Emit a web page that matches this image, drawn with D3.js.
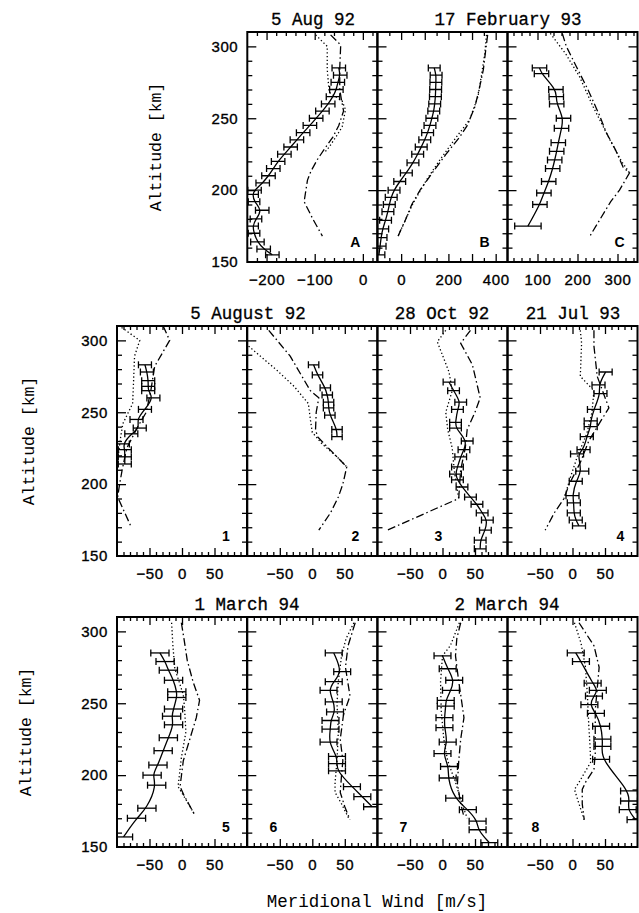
<!DOCTYPE html>
<html>
<head>
<meta charset="utf-8">
<script src="https://cdn.jsdelivr.net/npm/d3@7"></script>
<style>
body { margin: 0; background: #fff; }
</style>
</head>
<body>
<div id="chart"></div>
<script>

// ---- data: [altitude km, meridional wind m/s, error] ----
var ptsA = [[285,-50,14],[280,-47,14],[275,-52,14],[270,-55,14],[265,-62,14],[260,-72,14],[255,-84,14],[250,-97,14],[245,-110,14],[240,-124,14],[235,-137,14],[230,-150,14],[225,-163,14],[220,-176,14],[215,-186,14],[210,-196,14],[205,-208,14],[200,-225,14],[197,-229,12],[192,-226,12],[186,-209,14],[180,-222,12],[175,-229,12],[170,-226,12],[164,-219,14],[159,-206,14],[155,-188,14]]
var dotA = [[308,-98],[300,-74],[284,-74],[268,-70],[262,-43],[256,-36],[244,-43],[237,-56],[230,-70],[226,-80]]
var dashA = [[308,-67],[301,-46],[285,-48],[270,-48],[262,-44],[255,-40],[245,-50],[237,-62],[228,-81],[221,-95],[213,-108],[207,-115],[192,-122],[180,-104],[168,-84]]

var ptsB = [[285,140,25],[280,148,25],[275,147,25],[270,146,25],[265,145,25],[260,142,25],[255,138,25],[250,130,25],[245,122,25],[240,112,25],[235,100,25],[230,85,25],[225,70,25],[219,50,25],[212,22,25],[206,-6,25],[200,-30,25],[195,-42,25],[190,-50,25],[185,-56,25],[179,-66,25],[173,-78,25],[167,-85,25],[161,-89,25],[155,-94,25]]
var dotB = [[308,361],[295,354],[280,340],[265,325],[249,290],[237,234],[221,164],[207,107],[191,51],[180,20],[168,-13]]
var dashB = [[308,366],[295,356],[284,348],[270,330],[258,312],[245,280],[237,248],[225,190],[215,145],[200,80],[190,45],[178,15],[168,-13]]

var ptsC = [[285,105,18],[281,110,18],[270,146,18],[265,147,18],[260,148,18],[250,165,18],[243,160,18],[233,152,18],[227,148,18],[221,143,18],[215,138,18],[206,128,18],[198,116,18],[190,106,18],[175,76,33]]
var dotC = [[309,132],[295,170],[279,205],[258,239],[235,281],[220,310],[212,330]]
var dashC = [[309,162],[300,172],[286,197],[270,226],[252,255],[240,272],[228,295],[216,314],[212,330],[200,305],[192,283],[180,257],[168,231]]

var pts1 = [[283,-57,10],[278,-54,10],[272,-52,10],[268,-52,10],[265,-52,10],[260,-44,10],[252,-57,10],[245,-70,10],[239,-65,10],[235,-78,10],[228,-91,10],[224,-88,10],[219,-88,10],[214,-88,10]]
var dot1 = [[309,-93],[300,-65],[289,-73],[266,-75],[256,-76],[242,-91],[231,-95],[220,-98]]
var dash1 = [[310,-29],[300,-19],[282,-42],[265,-48],[250,-55],[240,-68],[225,-85],[210,-92],[200,-96],[191,-99],[180,-88],[170,-78]]

var pts2 = [[283,2,8],[276,8,8],[267,20,8],[262,23,8],[257,25,8],[253,25,8],[248,27,8],[238,38,8],[233,38,8]]
var dot2 = [[296,-98],[279,-54],[268,-28],[256,-6],[245,-3],[236,0],[228,15],[219,38],[212,53]]
var dash2 = [[307,-67],[289,-34],[265,-3],[260,10],[250,6],[238,5],[233,8],[225,25],[212,53],[200,47],[191,40],[180,28],[168,10]]

var pts3 = [[271,10,9],[265,17,9],[257,28,9],[252,23,9],[243,20,9],[239,20,9],[230,38,9],[224,33,9],[219,28,9],[212,23,9],[207,20,9],[203,23,9],[198,30,9],[191,43,9],[186,53,9],[180,61,9],[175,69,9],[168,66,9],[161,58,9],[155,58,9]]
var dot3 = [[307,5],[299,-8],[278,10],[265,15],[250,5],[238,8],[225,15],[210,18],[198,22],[190,25]]
var dash3 = [[307,43],[298,28],[283,46],[260,58],[250,50],[238,38],[225,35],[210,28],[198,26],[190,25],[168,-85]]

var pts4 = [[278,51,10],[269,40,10],[263,43,10],[252,33,10],[244,28,10],[240,28,10],[233,22,10],[224,17,10],[221,7,10],[209,15,10],[202,5,10],[192,0,10],[187,2,10],[180,2,10],[175,5,10],[171,10,10]]
var dot4 = [[307,12],[298,14],[275,12],[265,33],[250,30],[235,22],[220,8],[205,-3],[190,-13]]
var dash4 = [[307,33],[296,33],[275,38],[253,56],[245,45],[230,25],[215,12],[200,-5],[190,-13],[180,-28],[168,-42]]

var pts5 = [[285,-34,14],[279,-26,14],[273,-21,14],[266,-13,14],[258,-8,14],[254,-8,14],[246,-13,14],[241,-16,14],[235,-13,14],[226,-21,14],[217,-29,14],[207,-37,14],[200,-46,14],[193,-39,14],[177,-54,14],[170,-70,14],[157,-90,14]]
var dot5 = [[306,-16],[290,-14],[274,-11],[256,2],[246,4],[230,6],[212,-1],[192,-6],[186,2],[180,10],[172,20]]
var dash5 = [[306,-1],[295,3],[280,8],[265,17],[252,27],[240,22],[225,12],[210,2],[192,-3],[186,3],[172,20]]

var pts6 = [[285,33,13],[272,46,13],[265,33,13],[259,25,13],[251,33,13],[244,35,13],[238,28,13],[232,28,13],[223,25,13],[213,38,13],[208,38,13],[203,38,13],[192,61,13],[185,77,13],[178,92,13]]
var dot6 = [[306,64],[295,52],[283,45],[265,40],[250,38],[230,40],[210,38],[195,35],[188,35],[180,45],[170,56]]
var dash6 = [[306,66],[290,55],[275,51],[255,58],[242,48],[225,43],[210,47],[200,45],[188,43],[178,50],[169,58]]

var pts7 = [[283,0,13],[274,8,13],[266,18,13],[259,13,13],[252,5,13],[248,5,13],[240,3,13],[233,3,13],[223,8,13],[215,0,13],[206,10,13],[198,8,13],[184,18,13],[176,39,13],[168,54,13],[162,54,13],[153,72,13]]
var dot7 = [[306,26],[290,12],[283,0],[265,-3],[245,-2],[225,2],[210,8],[195,20],[180,30],[170,38]]
var dash7 = [[306,28],[295,22],[283,20],[265,25],[256,28],[240,33],[225,28],[210,25],[194,23],[180,28],[171,33]]

var pts8 = [[285,5,13],[279,13,13],[264,31,13],[259,39,13],[255,33,13],[249,26,13],[243,36,13],[234,44,13],[225,46,13],[220,46,13],[211,44,13],[189,87,13],[182,87,13],[176,85,13],[169,97,13]]
var dot8 = [[306,3],[292,13],[275,20],[255,23],[235,25],[220,27],[209,28],[195,10],[190,3],[180,10],[169,18]]
var dash8 = [[306,10],[290,33],[275,41],[260,38],[245,35],[230,35],[215,35],[204,33],[195,20],[190,15],[180,15],[169,18]]

var altTicks = [150, 200, 250, 300]
var titles = ["5 Aug 92", "17 February 93", "5 August 92", "28 Oct 92", "21 Jul 93", "1 March 94", "2 March 94"]

// ---- layout ----
var width = 639, height = 913
var panelW = 130, panelH = 230
var rowTop = [32, 326, 617]
var colLeft = [117, 247.3, 377.5, 507.5]

var panels = [
	{row:0, col:1, xdom:[-240,30], xlab:[-200,-100,0], major:100, minor:20, tag:"A", tagDx:108, pts:ptsA, dot:dotA, dash:dashA},
	{row:0, col:2, xdom:[-100,450], xlab:[0,200,400], major:100, minor:50, tag:"B", tagDx:107, pts:ptsB, dot:dotB, dash:dashB},
	{row:0, col:3, xdom:[25,350], xlab:[100,200,300], major:100, minor:20, tag:"C", tagDx:112, pts:ptsC, dot:dotC, dash:dashC},
	{row:1, col:0, xdom:[-100,100], xlab:[-50,0,50], major:50, minor:10, tag:"1", tagDx:109, pts:pts1, dot:dot1, dash:dash1},
	{row:1, col:1, xdom:[-100,100], xlab:[-50,0,50], major:50, minor:10, tag:"2", tagDx:108, pts:pts2, dot:dot2, dash:dash2},
	{row:1, col:2, xdom:[-100,100], xlab:[-50,0,50], major:50, minor:10, tag:"3", tagDx:61, pts:pts3, dot:dot3, dash:dash3},
	{row:1, col:3, xdom:[-100,100], xlab:[-50,0,50], major:50, minor:10, tag:"4", tagDx:113, pts:pts4, dot:dot4, dash:dash4},
	{row:2, col:0, xdom:[-100,100], xlab:[-50,0,50], major:50, minor:10, tag:"5", tagDx:109, pts:pts5, dot:dot5, dash:dash5},
	{row:2, col:1, xdom:[-100,100], xlab:[-50,0,50], major:50, minor:10, tag:"6", tagDx:26, pts:pts6, dot:dot6, dash:dash6},
	{row:2, col:2, xdom:[-100,100], xlab:[-50,0,50], major:50, minor:10, tag:"7", tagDx:26, pts:pts7, dot:dot7, dash:dash7},
	{row:2, col:3, xdom:[-100,100], xlab:[-50,0,50], major:50, minor:10, tag:"8", tagDx:28, pts:pts8, dot:dot8, dash:dash8}
]

// title index, row, centre x
var titlePos = [[0,0,313],[1,0,508],[2,1,248],[3,1,442],[4,1,573],[5,2,247],[6,2,507]]

var monoFont = "'Liberation Mono', 'Courier New', monospace"
var sansFont = "'Liberation Sans', Arial, sans-serif"

function stepTicks(dom, step, skip) {
	var a = []
	var s = Math.ceil(dom[0] / step) * step
	for (var v = s; v <= dom[1]; v += step) {
		if (v > dom[0] && v < dom[1] && (!skip || v % skip !== 0)) a.push(v)
	}
	return a
}

function tickAxis(sel, axis, tr) {
	sel.append("g")
		.attr("transform", tr)
		.call(axis)
		.call(function(a) {
			a.select(".domain").remove()
			a.selectAll("line").attr("stroke-width", 1.3)
		})
}

function labelStyle(a) {
	a.select(".domain").remove()
	a.selectAll("text")
		.attr("font-family", sansFont)
		.attr("font-size", 15)
		.attr("letter-spacing", 0.6)
		.attr("fill", "#000")
		.attr("stroke", "#000")
		.attr("stroke-width", 0.35)
}

var svg = d3.select("#chart").append("svg")
	.attr("width", width)
	.attr("height", height)
	.style("background", "#fff")

var y = d3.scaleLinear().domain([150, 310]).range([panelH, 0])
var altMajor = [200, 250, 300]
var altMinor = stepTicks([150, 310], 10, 50)

panels.forEach(function(p, i) {
	var x0 = colLeft[p.col], y0 = rowTop[p.row]
	var x = d3.scaleLinear().domain(p.xdom).range([0, panelW])
	var g = svg.append("g").attr("transform", "translate(" + x0 + "," + y0 + ")")

	svg.append("clipPath").attr("id", "clip" + i)
		.append("rect").attr("width", panelW).attr("height", panelH)

	var xMajor = stepTicks(p.xdom, p.major)
	var xMinor = stepTicks(p.xdom, p.minor).filter(function(v) { return xMajor.indexOf(v) < 0 })

	// x ticks, top and bottom, pointing inward
	tickAxis(g, d3.axisBottom(x).tickValues(xMinor).tickSize(-4).tickFormat(""), "translate(0," + panelH + ")")
	tickAxis(g, d3.axisBottom(x).tickValues(xMajor).tickSize(-8).tickFormat(""), "translate(0," + panelH + ")")
	tickAxis(g, d3.axisTop(x).tickValues(xMinor).tickSize(-4).tickFormat(""), "translate(0,0)")
	tickAxis(g, d3.axisTop(x).tickValues(xMajor).tickSize(-8).tickFormat(""), "translate(0,0)")

	// altitude ticks on both sides, inward (shared edges get crosses)
	tickAxis(g, d3.axisLeft(y).tickValues(altMinor).tickSize(-5).tickFormat(""), "translate(0,0)")
	tickAxis(g, d3.axisLeft(y).tickValues(altMajor).tickSize(-9).tickFormat(""), "translate(0,0)")
	tickAxis(g, d3.axisRight(y).tickValues(altMinor).tickSize(-5).tickFormat(""), "translate(" + panelW + ",0)")
	tickAxis(g, d3.axisRight(y).tickValues(altMajor).tickSize(-9).tickFormat(""), "translate(" + panelW + ",0)")

	// x tick labels
	g.append("g")
		.attr("transform", "translate(0," + panelH + ")")
		.call(d3.axisBottom(x).tickValues(p.xlab).tickSize(0).tickPadding(12))
		.call(labelStyle)

	// altitude labels for first panel in row
	if (p.col === (p.row === 0 ? 1 : 0)) {
		g.append("g")
			.call(d3.axisLeft(y).tickValues(altTicks).tickSize(0).tickPadding(9))
			.call(labelStyle)
	}

	var plot = g.append("g").attr("clip-path", "url(#clip" + i + ")")

	var line = d3.line()
		.x(function(d) { return x(d[1]) })
		.y(function(d) { return y(d[0]) })

	plot.append("path")
		.datum(p.dot)
		.attr("d", line)
		.attr("fill", "none")
		.attr("stroke", "#000")
		.attr("stroke-width", 1.3)
		.attr("stroke-dasharray", "1.3,2.4")

	plot.append("path")
		.datum(p.dash)
		.attr("d", line)
		.attr("fill", "none")
		.attr("stroke", "#000")
		.attr("stroke-width", 1.3)
		.attr("stroke-dasharray", "8,3,1.5,3")

	// smooth fit through the measurements
	plot.append("path")
		.datum(p.pts)
		.attr("d", line.curve(d3.curveBasis))
		.attr("fill", "none")
		.attr("stroke", "#000")
		.attr("stroke-width", 1.3)

	var bars = plot.selectAll(".bar").data(p.pts).enter().append("g").attr("class", "bar")
	bars.append("line")
		.attr("x1", function(d) { return x(d[1] - d[2]) })
		.attr("x2", function(d) { return x(d[1] + d[2]) })
		.attr("y1", function(d) { return y(d[0]) })
		.attr("y2", function(d) { return y(d[0]) })
		.attr("stroke", "#000").attr("stroke-width", 1.3)
	bars.append("line")
		.attr("x1", function(d) { return x(d[1] - d[2]) })
		.attr("x2", function(d) { return x(d[1] - d[2]) })
		.attr("y1", function(d) { return y(d[0]) - 3.5 })
		.attr("y2", function(d) { return y(d[0]) + 3.5 })
		.attr("stroke", "#000").attr("stroke-width", 1.3)
	bars.append("line")
		.attr("x1", function(d) { return x(d[1] + d[2]) })
		.attr("x2", function(d) { return x(d[1] + d[2]) })
		.attr("y1", function(d) { return y(d[0]) - 3.5 })
		.attr("y2", function(d) { return y(d[0]) + 3.5 })
		.attr("stroke", "#000").attr("stroke-width", 1.3)

	// frame
	g.append("rect")
		.attr("width", panelW)
		.attr("height", panelH)
		.attr("fill", "none")
		.attr("stroke", "#000")
		.attr("stroke-width", 2)

	g.append("text")
		.attr("x", p.tagDx)
		.attr("y", panelH - 15)
		.attr("font-family", sansFont)
		.attr("font-size", 14)
		.attr("font-weight", "bold")
		.attr("text-anchor", "middle")
		.text(p.tag)
})

// titles
titlePos.forEach(function(t) {
	svg.append("text")
		.attr("x", t[2])
		.attr("y", rowTop[t[1]] - 7)
		.attr("font-family", monoFont)
		.attr("font-size", 17.5)
		.attr("text-anchor", "middle")
		.attr("stroke", "#000")
		.attr("stroke-width", 0.3)
		.text(titles[t[0]])
})

// axis titles
var altLabelX = [155, 28, 25]
rowTop.forEach(function(t, r) {
	svg.append("text")
		.attr("transform", "translate(" + altLabelX[r] + "," + (t + panelH / 2) + ")rotate(-90)")
		.attr("dy", "0.35em")
		.attr("font-family", monoFont)
		.attr("font-size", 16.5)
		.attr("text-anchor", "middle")
		.text("Altitude [km]")
})

svg.append("text")
	.attr("x", 377)
	.attr("y", 907)
	.attr("font-family", monoFont)
	.attr("font-size", 17.5)
	.attr("text-anchor", "middle")
	.text("Meridional Wind [m/s]")

</script>
</body>
</html>
